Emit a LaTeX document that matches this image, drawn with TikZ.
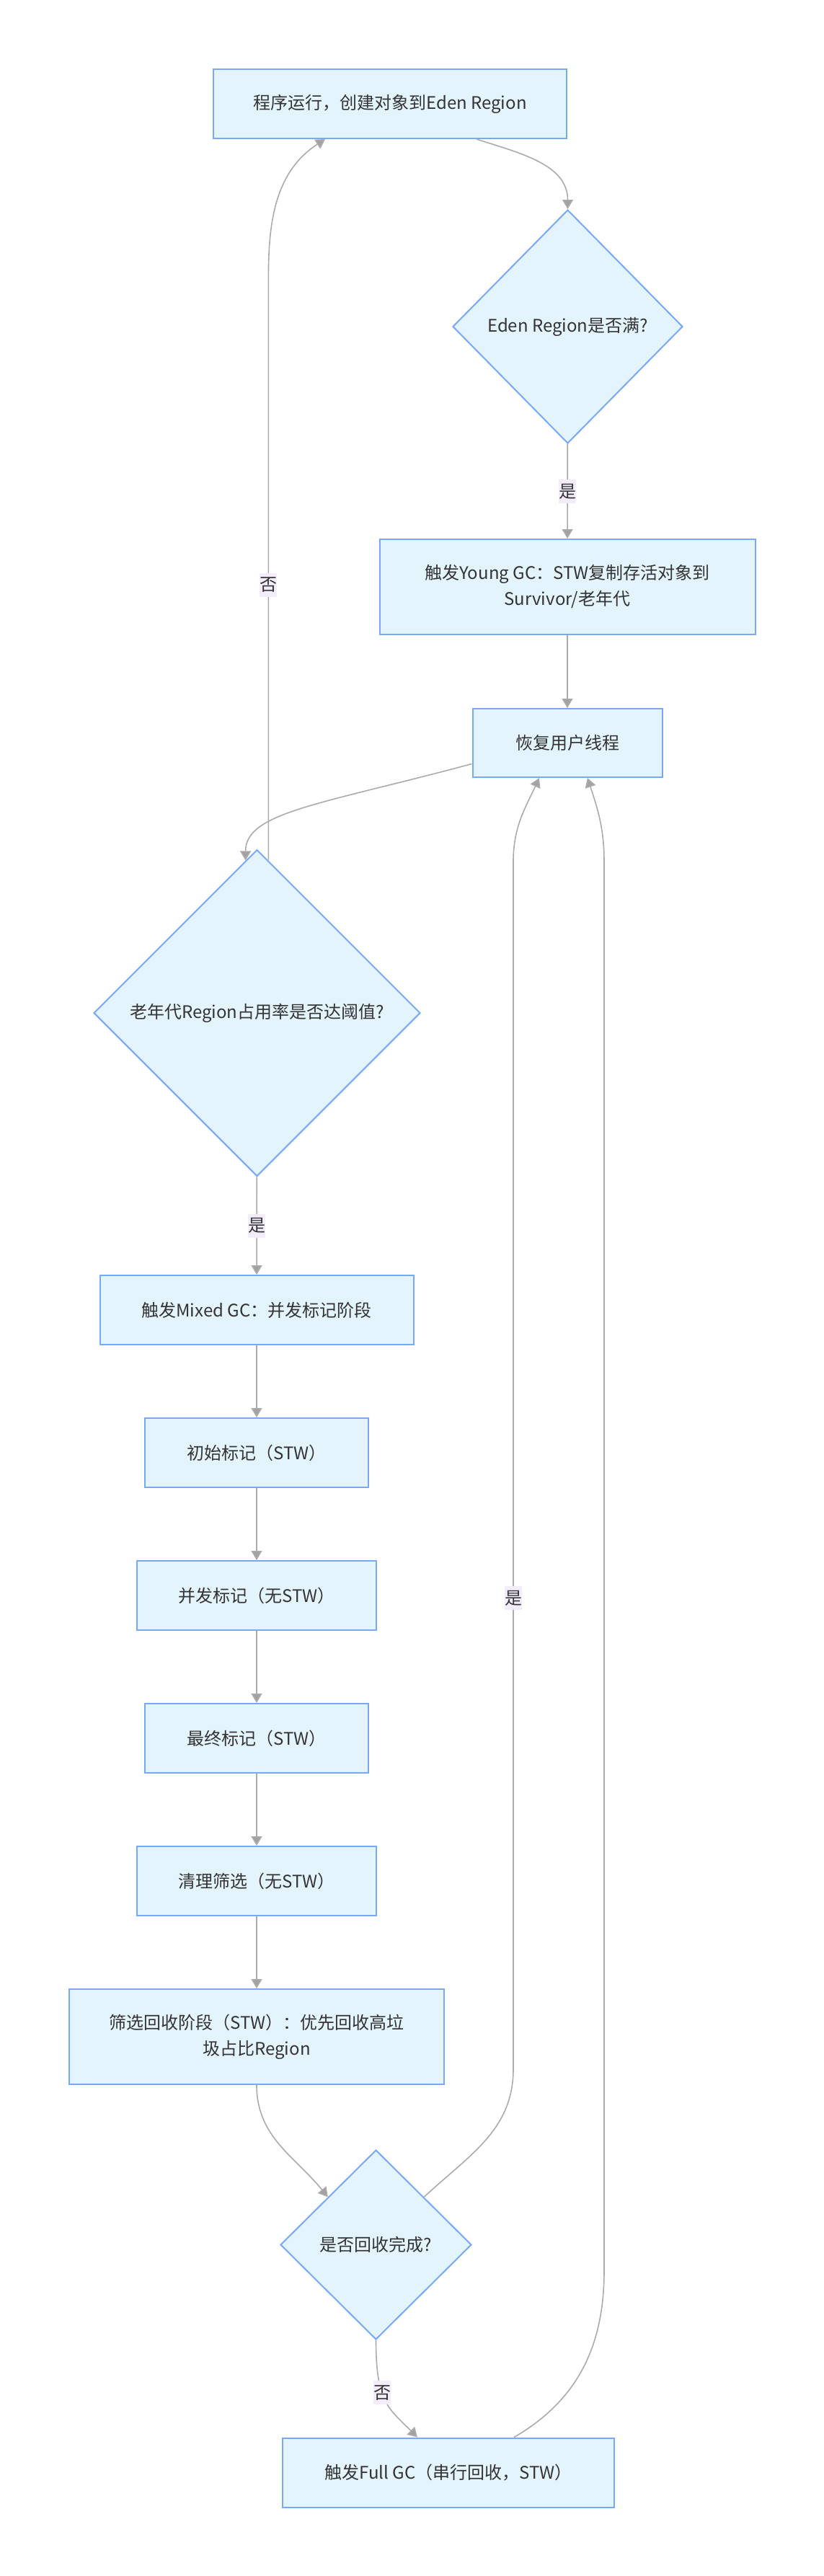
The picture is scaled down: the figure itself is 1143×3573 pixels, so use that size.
\documentclass[tikz,border=0pt]{standalone}
\usepackage{fontspec}
\setmainfont{Noto Sans CJK SC}
\usepackage{xcolor}
\usepackage{tikz}
\usetikzlibrary{positioning, arrows.meta, shapes.geometric, calc}
\definecolor{nodefill}{HTML}{E4F4FD}
\definecolor{nodeline}{HTML}{78A9F8}
\definecolor{edgegrey}{HTML}{ABABAB}
\definecolor{tipgrey}{HTML}{A2A2A2}
\definecolor{lblbg}{HTML}{F3ECFB}
\definecolor{txtdark}{HTML}{333333}

\begin{document}
\begin{tikzpicture}[
    x=0.5pt, y=0.5pt,
    box/.style={rectangle, draw=nodeline, line width=1pt, fill=nodefill,
                minimum height=48pt, inner xsep=6pt, text=txtdark,
                font=\fontsize{12pt}{18pt}\selectfont, align=center},
    tallbox/.style={box, minimum height=66pt},
    decision/.style={diamond, draw=nodeline, line width=1pt, fill=nodefill,
                inner sep=0pt, text=txtdark,
                font=\fontsize{12pt}{18pt}\selectfont},
    lbl/.style={fill=lblbg, inner xsep=0pt, inner ysep=3pt, text=txtdark,
                font=\fontsize{12pt}{18pt}\selectfont},
    arrow/.style={draw=edgegrey, line width=0.8pt,
                  -{Triangle[length=6.5pt, width=7.5pt, fill=tipgrey]}},
]

% --- page frame ---
\useasboundingbox (0,0) rectangle (1143,-3573);

% --- young generation part ---
\node[box, minimum width=245pt] (run) at (541,-144)
    {程序运行，创建对象到Eden Region};
\node[decision, minimum width=159.5pt, minimum height=162pt] (eden) at (787.5,-453)
    {Eden Region是否满?};
\node[tallbox, minimum width=260.5pt] (young) at (787,-814)
    {触发Young GC：STW复制存活对象到\\Survivor/老年代};
\node[box, minimum width=131.5pt, minimum height=47.5pt] (resume) at (787,-1030.5)
    {恢复用户线程};

% --- old generation check ---
\node[decision, minimum width=226.5pt, minimum height=226.5pt] (old) at (356.5,-1405)
    {老年代Region占用率是否达阈值?};

% --- mixed GC phases ---
\node[box, minimum width=217.5pt] (mixed) at (356,-1817) {触发Mixed GC：并发标记阶段};
\node[box, minimum width=155pt, below=50pt of mixed] (initmark) {初始标记（STW）};
\node[box, minimum width=166pt, below=50pt of initmark] (concmark) {并发标记（无STW）};
\node[box, minimum width=155pt, below=50pt of concmark] (finalmark) {最终标记（STW）};
\node[box, minimum width=166pt, below=50pt of finalmark] (cleanup) {清理筛选（无STW）};
\node[tallbox, minimum width=260pt, below=50pt of cleanup] (evac)
    {筛选回收阶段（STW）：优先回收高垃\\圾占比Region};

% --- result check and fallback ---
\node[decision, minimum width=132.5pt, minimum height=131.5pt] (check) at (521.5,-3113.5)
    {是否回收完成?};
\node[box, minimum width=230pt] (full) at (622,-3429.5) {触发Full GC（串行回收，STW）};

% ============== arrows ==============
\draw[arrow] ([xshift=60pt]run.south) to[out=-18, in=90] (eden.north);
\draw[arrow] (eden) -- node[lbl] {是} (young);
\draw[arrow] (young) -- (resume);
\draw[arrow] ([yshift=-14.5pt]resume.west)
    to[out=195, in=90, out looseness=1.65, in looseness=0.5]
    ($(old.north)!0.07!(old.west)$);

% --- back to the program when old gen is fine ---
\draw[arrow] ($(old.north)!0.07!(old.east)$) -- ++(0,813) node[lbl, pos=0.47] {否}
    to[out=90, in=-147] ([xshift=-45pt]run.south);

\draw[arrow] (old) -- node[lbl] {是} (mixed);
\draw[arrow] (mixed) -- (initmark);
\draw[arrow] (initmark) -- (concmark);
\draw[arrow] (concmark) -- (finalmark);
\draw[arrow] (finalmark) -- (cleanup);
\draw[arrow] (cleanup) -- (evac);
\draw[arrow] (evac.south) to[out=-90, in=129] (check.north west);

% --- long returns to the user threads ---
\draw[arrow] (check.north east) to[out=43, in=-90] (712,-2870)
    -- node[lbl, pos=0.39] {是} (712,-1195)
    to[out=90, in=-115] ([xshift=-19.5pt]resume.south);
\draw[arrow] (check.south) to[out=-90, in=135, out looseness=1.5]
    node[lbl, pos=0.4] {否} ([xshift=-21.5pt]full.north);
\draw[arrow] ([xshift=45.5pt]full.north) to[out=30, in=-90] (838,-3150)
    -- (838,-1195) to[out=90, in=-72] ([xshift=14pt]resume.south);

\end{tikzpicture}
\end{document}
